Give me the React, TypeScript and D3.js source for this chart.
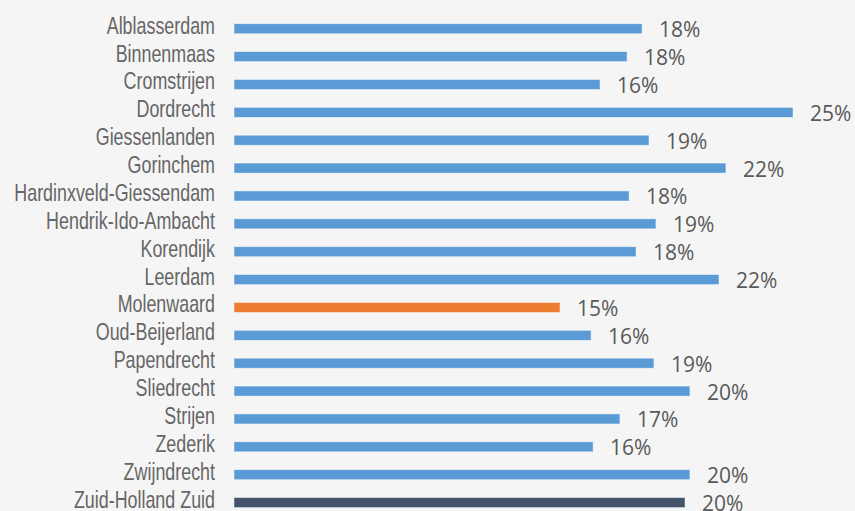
import React, { useRef, useEffect } from "react";
import * as d3 from "d3";

const categories = [
  "Alblasserdam",
  "Binnenmaas",
  "Cromstrijen",
  "Dordrecht",
  "Giessenlanden",
  "Gorinchem",
  "Hardinxveld-Giessendam",
  "Hendrik-Ido-Ambacht",
  "Korendijk",
  "Leerdam",
  "Molenwaard",
  "Oud-Beijerland",
  "Papendrecht",
  "Sliedrecht",
  "Strijen",
  "Zederik",
  "Zwijndrecht",
  "Zuid-Holland Zuid",
];

// percentage per municipality
const values = [
  18.25, 17.58, 16.37, 25.0, 18.56, 22.0, 17.67, 18.87, 17.98, 21.69, 14.58,
  15.97, 18.78, 20.39, 17.26, 16.06, 20.39, 20.17,
];

const highlight = "Molenwaard";
const total = "Zuid-Holland Zuid";

const width = 855;
const height = 511;

export default function App() {
  const svgRef = useRef<SVGSVGElement>(null);

  useEffect(() => {
    if (!svgRef.current) return;
    const svg = d3.select(svgRef.current);
    svg.selectAll("*").remove();

    svg
      .append("rect")
      .attr("width", width)
      .attr("height", height)
      .attr("fill", "#f5f5f5");

    const x = d3.scaleLinear().domain([0, 25]).range([234, 793]);
    const y = d3
      .scaleBand<string>()
      .domain(categories)
      .range([14.8, 516.5])
      .paddingInner(0.64)
      .paddingOuter(0.32);

    const data = categories.map((c, i) => ({ name: c, value: values[i] }));
    const color = (n: string) =>
      n === highlight ? "#ed7d31" : n === total ? "#44546a" : "#5b9bd5";

    svg
      .selectAll(".bar")
      .data(data)
      .enter()
      .append("rect")
      .attr("class", "bar")
      .attr("x", x(0))
      .attr("y", (d) => y(d.name)!)
      .attr("width", (d) => x(d.value) - x(0))
      .attr("height", y.bandwidth())
      .attr("fill", (d) => color(d.name))
      .attr("stroke", "#ffffff")
      .attr("stroke-opacity", 0.6)
      .attr("stroke-width", 0.75);

    const mid = (n: string) => y(n)! + y.bandwidth() / 2;

    // condensed look: squeeze a regular sans horizontally
    const labels = svg
      .append("g")
      .attr("transform", "translate(215,0) scale(0.745,1)");

    labels
      .selectAll("text")
      .data(data)
      .enter()
      .append("text")
      .attr("x", 0)
      .attr("y", (d) => mid(d.name) + 5)
      .attr("text-anchor", "end")
      .attr("font-family", "'Liberation Sans', Arial, sans-serif")
      .attr("font-size", 24)
      .attr("fill", "#666666")
      .text((d) => d.name);

    svg
      .selectAll(".val")
      .data(data)
      .enter()
      .append("text")
      .attr("class", "val")
      .attr("x", (d) => x(d.value) + 17)
      .attr("y", (d) => mid(d.name) + 8.5)
      .attr("font-family", "'Open Sans', 'Noto Sans', sans-serif")
      .attr("font-size", 21)
      .attr("fill", "#595959")
      .text((d) => `${Math.round(d.value)}%`);
  }, []);

  return (
    <svg
      ref={svgRef}
      width={width}
      height={height}
      viewBox={`0 0 ${width} ${height}`}
      style={{ position: "absolute", left: 0, top: 0 }}
    />
  );
}
